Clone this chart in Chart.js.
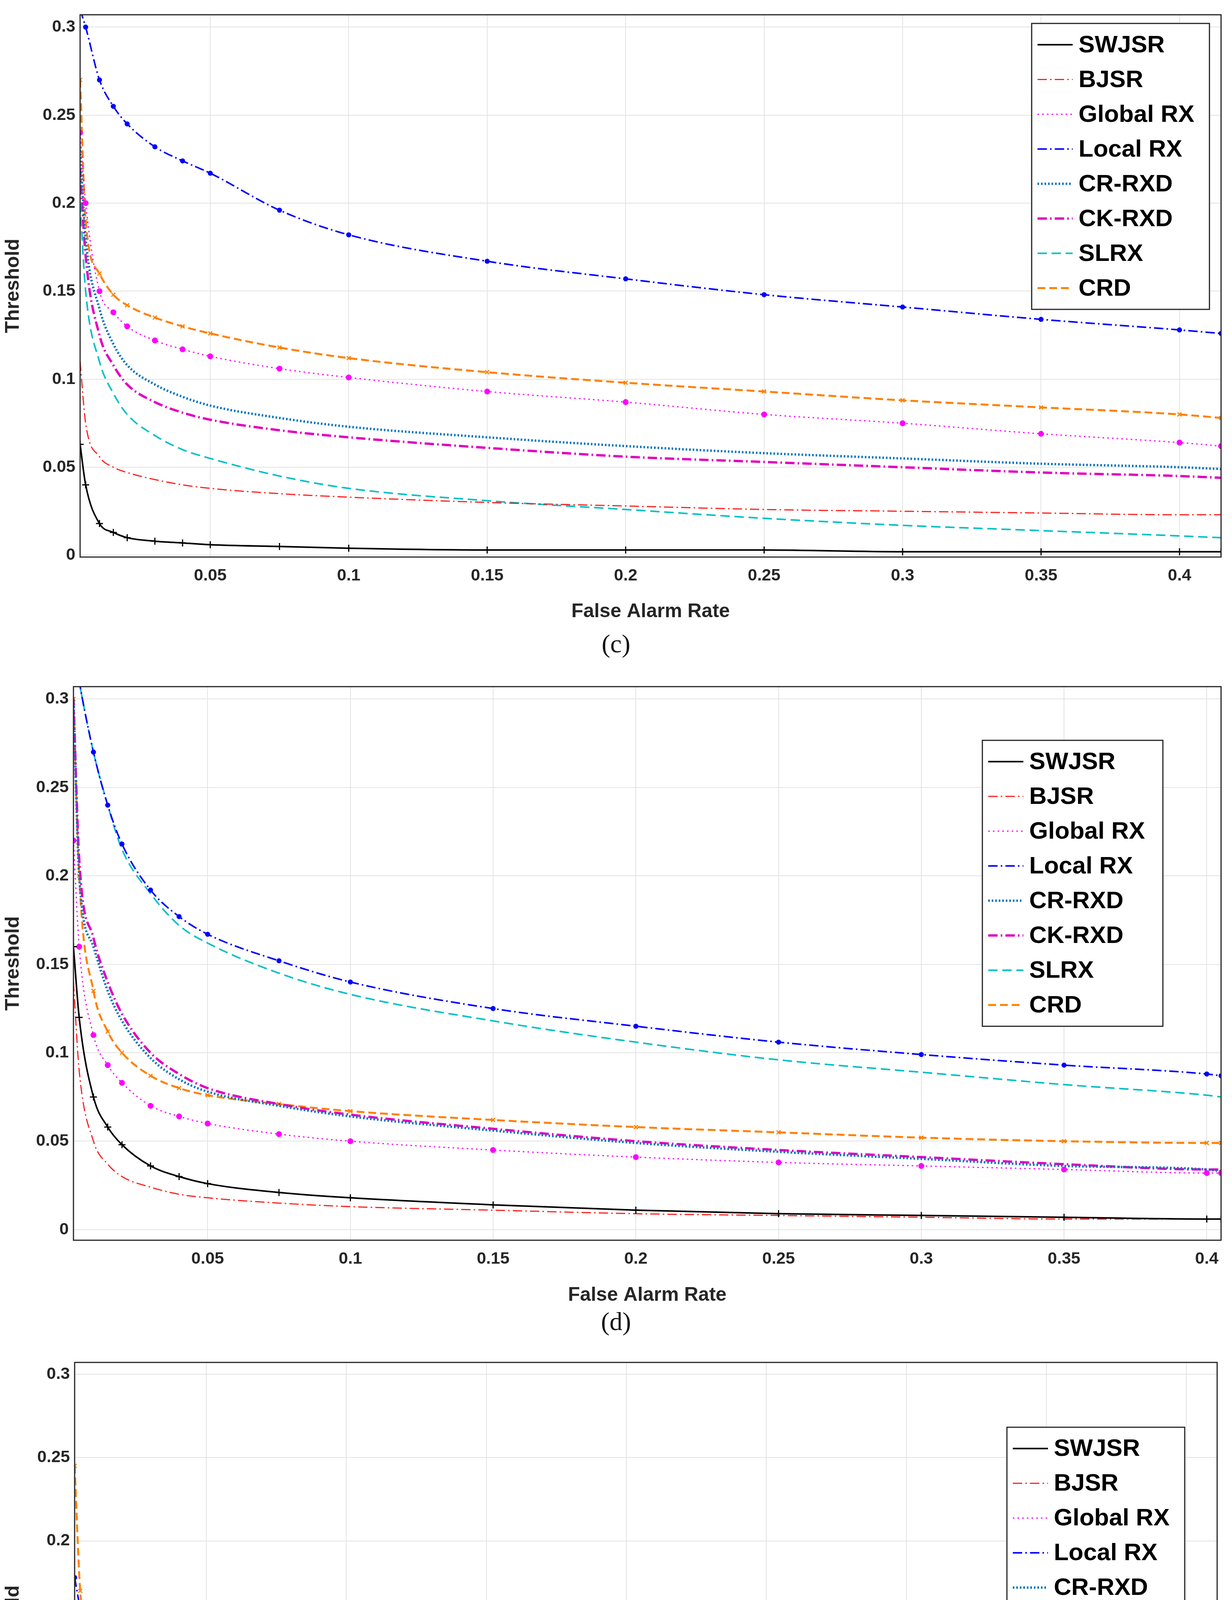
<!DOCTYPE html>
<html>
<head>
<meta charset="utf-8">
<script src="https://cdn.jsdelivr.net/npm/chart.js@4/dist/chart.umd.min.js"></script>
<style>
  body { margin: 0; background: #fff; width: 3153px; height: 5185px; position: relative; font-family: "Liberation Sans", Arial, sans-serif; }
  .panel { position: absolute; left: 0; width: 3153px; }
  .cap { position: absolute; left: 0; width: 3153px; text-align: center; font-family: "Liberation Serif", serif; font-size: 66px; color: #111; }
</style>
</head>
<body>
<div class="panel" style="top:0;height:1600px"><canvas id="chartC"></canvas></div>
<div class="cap" style="top:1610px">(c)</div>
<div class="panel" style="top:1720px;height:1630px"><canvas id="chartD"></canvas></div>
<div class="cap" style="top:3345px">(d)</div>
<div class="panel" style="top:3450px;height:1600px"><canvas id="chartE"></canvas></div>
<div class="cap" style="top:5075px">(e)</div>
<script>
const names = ['SWJSR', 'BJSR', 'Global RX', 'Local RX', 'CR-RXD', 'CK-RXD', 'SLRX', 'CRD'];
const xTicks = [0.05, 0.1, 0.15, 0.2, 0.25, 0.3, 0.35, 0.4];
const yTicks = [0, 0.05, 0.1, 0.15, 0.2, 0.25, 0.3];

// panel (c)
const farC = [0.003, 0.005, 0.01, 0.015, 0.02, 0.03, 0.04, 0.05, 0.075, 0.1, 0.15, 0.2, 0.25, 0.3, 0.35, 0.4, 0.415];
const swjsrC = [0.063, 0.04, 0.018, 0.013, 0.01, 0.008, 0.007, 0.006, 0.005, 0.004, 0.003, 0.003, 0.003, 0.002, 0.002, 0.002, 0.002];
const bjsrC = [0.11, 0.075, 0.056, 0.05, 0.047, 0.043, 0.04, 0.038, 0.035, 0.033, 0.03, 0.028, 0.026, 0.025, 0.024, 0.023, 0.023];
const globalC = [0.24, 0.2, 0.15, 0.138, 0.13, 0.122, 0.117, 0.113, 0.106, 0.101, 0.093, 0.087, 0.08, 0.075, 0.069, 0.064, 0.062];
const localC = [0.31, 0.3, 0.27, 0.255, 0.245, 0.232, 0.224, 0.217, 0.196, 0.182, 0.167, 0.157, 0.148, 0.141, 0.134, 0.128, 0.126];
const crrxdC = [0.23, 0.18, 0.14, 0.12, 0.108, 0.097, 0.09, 0.085, 0.078, 0.073, 0.067, 0.062, 0.058, 0.055, 0.052, 0.05, 0.049];
const ckrxdC = [0.22, 0.17, 0.125, 0.108, 0.097, 0.087, 0.081, 0.077, 0.071, 0.067, 0.061, 0.056, 0.053, 0.05, 0.047, 0.045, 0.044];
const slrxC = [0.2, 0.15, 0.11, 0.092, 0.08, 0.068, 0.06, 0.055, 0.045, 0.038, 0.031, 0.026, 0.021, 0.017, 0.014, 0.011, 0.01];
const crdC = [0.27, 0.19, 0.16, 0.148, 0.142, 0.135, 0.13, 0.126, 0.118, 0.112, 0.104, 0.098, 0.093, 0.088, 0.084, 0.08, 0.078];

// panel (d)
const farD = [0.003, 0.005, 0.01, 0.015, 0.02, 0.03, 0.04, 0.05, 0.075, 0.1, 0.15, 0.2, 0.25, 0.3, 0.35, 0.4, 0.405];
const swjsrD = [0.16, 0.12, 0.075, 0.058, 0.048, 0.036, 0.03, 0.026, 0.021, 0.018, 0.014, 0.011, 0.009, 0.008, 0.007, 0.006, 0.006];
const bjsrD = [0.14, 0.09, 0.05, 0.037, 0.03, 0.024, 0.02, 0.018, 0.015, 0.013, 0.011, 0.009, 0.008, 0.007, 0.006, 0.006, 0.006];
const globalD = [0.22, 0.16, 0.11, 0.093, 0.083, 0.07, 0.064, 0.06, 0.054, 0.05, 0.045, 0.041, 0.038, 0.036, 0.034, 0.032, 0.032];
const localD = [0.33, 0.31, 0.27, 0.24, 0.218, 0.192, 0.177, 0.167, 0.152, 0.14, 0.125, 0.115, 0.106, 0.099, 0.093, 0.088, 0.087];
const crrxdD = [0.3, 0.2, 0.16, 0.135, 0.118, 0.097, 0.085, 0.078, 0.07, 0.064, 0.056, 0.049, 0.044, 0.04, 0.036, 0.034, 0.033];
const ckrxdD = [0.3, 0.21, 0.165, 0.14, 0.122, 0.1, 0.088, 0.08, 0.071, 0.065, 0.057, 0.05, 0.045, 0.041, 0.037, 0.034, 0.034];
const slrxD = [0.33, 0.31, 0.27, 0.24, 0.215, 0.19, 0.172, 0.162, 0.145, 0.133, 0.118, 0.106, 0.096, 0.089, 0.082, 0.076, 0.075];
const crdD = [0.3, 0.2, 0.135, 0.112, 0.1, 0.087, 0.08, 0.076, 0.071, 0.067, 0.062, 0.058, 0.055, 0.052, 0.05, 0.049, 0.049];

// panel (e)
const farE = [0.003, 0.005, 0.01, 0.015, 0.02, 0.03, 0.04, 0.05, 0.075, 0.1, 0.15, 0.2, 0.25, 0.3, 0.35, 0.4, 0.411];
const swjsrE = [0.03, 0.022, 0.014, 0.011, 0.009, 0.007, 0.006, 0.005, 0.004, 0.004, 0.003, 0.003, 0.002, 0.002, 0.002, 0.002, 0.002];
const bjsrE = [0.125, 0.1, 0.06, 0.043, 0.034, 0.026, 0.022, 0.019, 0.016, 0.014, 0.012, 0.01, 0.009, 0.008, 0.008, 0.007, 0.007];
const globalE = [0.06, 0.04, 0.025, 0.02, 0.018, 0.015, 0.013, 0.011, 0.009, 0.008, 0.006, 0.005, 0.005, 0.004, 0.004, 0.004, 0.004];
const localE = [0.178, 0.16, 0.14, 0.125, 0.114, 0.1, 0.092, 0.086, 0.076, 0.07, 0.062, 0.057, 0.052, 0.048, 0.045, 0.043, 0.042];
const crrxdE = [0.003, 0.003, 0.002, 0.002, 0.002, 0.002, 0.002, 0.002, 0.002, 0.002, 0.002, 0.002, 0.002, 0.002, 0.002, 0.002, 0.002];
const ckrxdE = [0.002, 0.002, 0.002, 0.002, 0.002, 0.002, 0.002, 0.002, 0.002, 0.002, 0.002, 0.001, 0.001, 0.001, 0.001, 0.001, 0.001];
const slrxE = [0.08, 0.04, 0.02, 0.014, 0.011, 0.008, 0.007, 0.006, 0.005, 0.004, 0.003, 0.003, 0.002, 0.002, 0.002, 0.002, 0.002];
const crdE = [0.245, 0.17, 0.13, 0.105, 0.092, 0.08, 0.073, 0.069, 0.063, 0.059, 0.055, 0.051, 0.048, 0.046, 0.044, 0.043, 0.043];

const styles = [
  { color: '#000000', dash: [], width: 4, point: 'cross', r: 9 },
  { color: '#ff2020', dash: [24, 8, 4, 8], width: 3, point: false, r: 0 },
  { color: '#ff00ff', dash: [4, 8], width: 3, point: 'circle', r: 6 },
  { color: '#0000ff', dash: [24, 8, 4, 8], width: 4, point: 'circle', r: 5 },
  { color: '#0072bd', dash: [4, 5], width: 6, point: false, r: 0 },
  { color: '#e000c0', dash: [24, 8, 4, 8], width: 6, point: false, r: 0 },
  { color: '#00c0c8', dash: [24, 12], width: 4, point: false, r: 0 },
  { color: '#ff8000', dash: [20, 10], width: 5, point: 'crossRot', r: 7 }
];

const boxPlugin = {
  id: 'box',
  afterDraw(chart, args, opts) {
    const { ctx, chartArea: a } = chart;
    ctx.save();
    ctx.strokeStyle = '#262626';
    ctx.lineWidth = 3;
    ctx.strokeRect(a.left, a.top, a.right - a.left, a.bottom - a.top);
    // legend inside the plot
    const lx = a.left + opts.fx * (a.right - a.left);
    const ly = a.top + opts.fy * (a.bottom - a.top);
    const w = opts.w, rowH = 89, h = rowH * 8 + 20;
    ctx.fillStyle = '#fff';
    ctx.fillRect(lx, ly, w, h);
    ctx.strokeStyle = '#262626';
    ctx.lineWidth = 3;
    ctx.strokeRect(lx, ly, w, h);
    ctx.font = 'bold 62px "Liberation Sans", Arial, sans-serif';
    ctx.textBaseline = 'middle';
    chart.data.datasets.forEach((ds, i) => {
      const s = styles[i];
      const y = ly + 10 + rowH * (i + 0.5);
      ctx.strokeStyle = s.color;
      ctx.lineWidth = s.width;
      ctx.setLineDash(s.dash);
      ctx.beginPath();
      ctx.moveTo(lx + 15, y);
      ctx.lineTo(lx + 105, y);
      ctx.stroke();
      ctx.setLineDash([]);
      ctx.fillStyle = '#000';
      ctx.fillText(ds.label, lx + 120, y + 2);
    });
    ctx.restore();
  }
};

function makeChart(id, far, series, xMax, yMin, pad, xAxisH, yAxisW, legendPos) {
  new Chart(document.getElementById(id), {
    type: 'line',
    data: {
      datasets: series.map((vals, i) => ({
        label: names[i],
        data: far.map((x, j) => ({ x: x, y: vals[j] })),
        borderColor: styles[i].color,
        backgroundColor: styles[i].color,
        borderWidth: styles[i].width,
        borderDash: styles[i].dash,
        pointStyle: styles[i].point,
        pointRadius: styles[i].r,
        pointBorderWidth: 3,
        fill: false,
        tension: 0.3,
        cubicInterpolationMode: 'monotone'
      }))
    },
    options: {
      responsive: true,
      maintainAspectRatio: false,
      animation: false,
      layout: { padding: pad },
      plugins: { legend: { display: false }, tooltip: { enabled: false }, box: legendPos },
      scales: {
        x: {
          type: 'linear', min: 0.003, max: xMax,
          afterBuildTicks: s => { s.ticks = xTicks.map(v => ({ value: v })); },
          afterFit: s => { s.height = xAxisH; },
          grid: { color: '#e3e3e3', lineWidth: 2, drawTicks: false },
          border: { display: false },
          ticks: { color: '#262626', padding: 22, font: { size: 43, weight: 'bold' }, callback: v => String(+v.toFixed(2)) },
          title: { display: true, text: 'False Alarm Rate', color: '#262626', font: { size: 50, weight: 'bold' }, padding: { top: 4 } }
        },
        y: {
          min: yMin, max: 0.307,
          afterBuildTicks: s => { s.ticks = yTicks.map(v => ({ value: v })); },
          afterFit: s => { s.width = yAxisW; },
          grid: { color: '#e3e3e3', lineWidth: 2, drawTicks: false },
          border: { display: false },
          ticks: { color: '#262626', padding: 12, font: { size: 43, weight: 'bold' }, callback: v => String(+v.toFixed(2)) },
          title: { display: true, text: 'Threshold', color: '#262626', font: { size: 50, weight: 'bold' }, padding: { bottom: 0 } }
        }
      }
    },
    plugins: [boxPlugin]
  });
}

makeChart('chartC', farC, [swjsrC, bjsrC, globalC, localC, crrxdC, ckrxdC, slrxC, crdC], 0.415, -0.001,
  { top: 20, right: 28, left: 0, bottom: 0 }, 174, 205, { fx: 0.834, fy: 0.016, w: 455 });
makeChart('chartD', farD, [swjsrD, bjsrD, globalD, localD, crrxdD, ckrxdD, slrxD, crdD], 0.405, -0.006,
  { top: 29, right: 28, left: 0, bottom: 0 }, 175, 188, { fx: 0.792, fy: 0.097, w: 462 });
makeChart('chartE', farE, [swjsrE, bjsrE, globalE, localE, crrxdE, ckrxdE, slrxE, crdE], 0.411, -0.017,
  { top: 28, right: 38, left: 0, bottom: 0 }, 179, 191, { fx: 0.816, fy: 0.12, w: 455 });
</script>
</body>
</html>
